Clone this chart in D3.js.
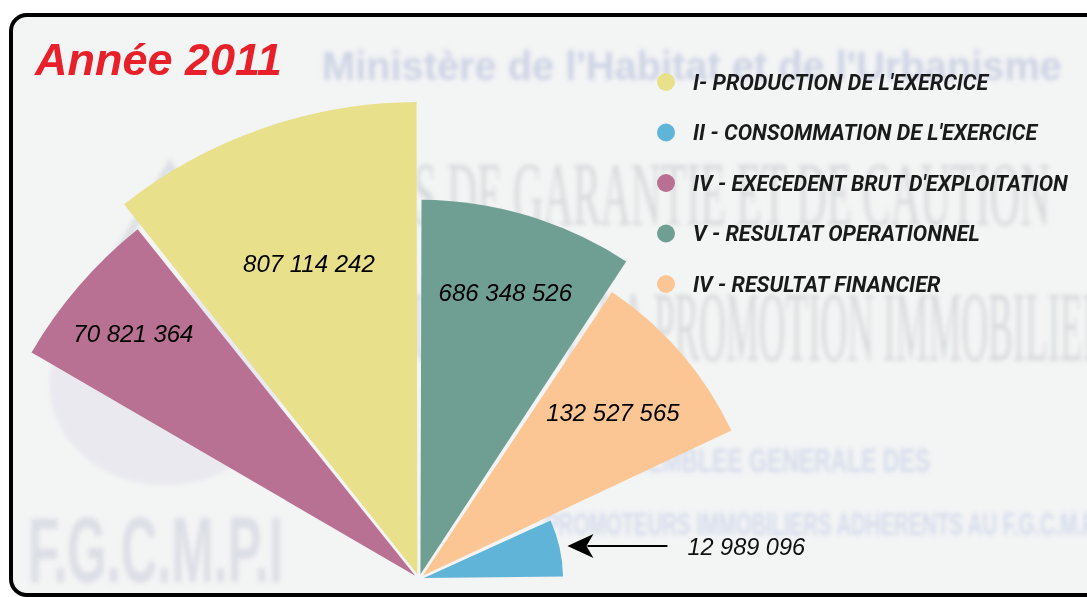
<!DOCTYPE html>
<html>
<head>
<meta charset="utf-8">
<script src="https://cdn.jsdelivr.net/npm/d3@7"></script>
<style>
  body { margin: 0; background: #fff; }
  svg { display: block; }
</style>
</head>
<body>
<div id="viz"></div>
<script>
var categories = ["I- PRODUCTION DE L'EXERCICE", "II - CONSOMMATION DE L'EXERCICE",
                  "IV - EXECEDENT BRUT D'EXPLOITATION", "V - RESULTAT OPERATIONNEL",
                  "IV - RESULTAT FINANCIER"];
var values = [807114242, 12989096, 70821364, 686348526, 132527565];
var colors = ["#e8e08a", "#5fb4d8", "#b87192", "#6f9f93", "#fcc694"];

// the wedges are not proportional to the values: angle share (deg) and
// reach (% of the longest wedge)
var sweeps = [38.5, 25, 21.5, 33.5, 31.5];
var reach = [100, 30.2, 94.1, 79.5, 72.5];
// left to right order of the wedges
var wedgeOrder = [2, 0, 3, 4, 1];

var width = 1087,
    height = 597;

var svg = d3.select("#viz").append("svg")
    .attr("width", width)
    .attr("height", height);

var defs = svg.append("defs");
defs.append("filter").attr("id", "blur")
    .attr("x", "-5%").attr("y", "-20%").attr("width", "110%").attr("height", "140%")
  .append("feGaussianBlur").attr("stdDeviation", 2.2);

// frame
svg.append("rect")
    .attr("x", 11).attr("y", 15)
    .attr("width", 1110).attr("height", 580)
    .attr("rx", 16)
    .style("fill", "#f3f4f4")
    .style("stroke", "#000")
    .style("stroke-width", 4);

// faded background poster
var bg = svg.append("g").attr("filter", "url(#blur)");

function ghost(x, y, len, size, family, weight, color, op, txt) {
  bg.append("text")
      .attr("x", x).attr("y", y)
      .attr("textLength", len)
      .attr("lengthAdjust", "spacingAndGlyphs")
      .style("font-family", family)
      .style("font-weight", weight)
      .style("font-size", size + "px")
      .style("fill", color)
      .style("opacity", op)
      .text(txt);
}

// logo ghost
bg.append("ellipse")
    .attr("cx", 165).attr("cy", 385).attr("rx", 115).attr("ry", 100)
    .style("fill", "#dedbe8").style("opacity", 0.45);
bg.append("path")
    .attr("d", "M90,300 L170,165 L250,300")
    .style("fill", "none").style("stroke", "#c4ccd6")
    .style("stroke-width", 7).style("opacity", 0.5);

ghost(322, 80, 740, 40, "Liberation Sans, Arial, sans-serif", "bold", "#aab4d8", 0.5,
      "Ministère de l'Habitat et de l'Urbanisme");
ghost(300, 225, 750, 92, "Liberation Serif, serif", "normal", "#9aa0a6", 0.3,
      "FONDS DE GARANTIE ET DE CAUTION");
ghost(330, 360, 800, 100, "Liberation Serif, serif", "normal", "#9aa0a6", 0.3,
      "MUTUELLE DE LA PROMOTION IMMOBILIERE");
ghost(600, 472, 330, 34, "Liberation Sans, Arial, sans-serif", "bold", "#aab8e0", 0.4,
      "ASSEMBLEE GENERALE DES");
ghost(545, 535, 560, 32, "Liberation Sans, Arial, sans-serif", "bold", "#aab8e0", 0.4,
      "PROMOTEURS IMMOBILIERS ADHERENTS AU F.G.C.M.P.I");
ghost(28, 582, 255, 92, "Liberation Sans, Arial, sans-serif", "bold", "#a8aec8", 0.3,
      "F.G.C.M.P.I");

// title
svg.append("text")
    .attr("x", 35).attr("y", 75)
    .style("font-family", "Liberation Sans, Arial, sans-serif")
    .style("font-weight", "bold")
    .style("font-style", "italic")
    .style("font-size", "45px")
    .style("fill", "#e8202a")
    .text("Année 2011");

// polar wedges
var cx = 419, cy = 579;
var deg = Math.PI / 180;

var r = d3.scaleLinear().domain([0, 100]).range([0, 477]);

var pie = d3.pie()
    .sort(null)
    .value(function(i) { return sweeps[i]; })
    .startAngle(-60 * deg)
    .endAngle(90 * deg);

var arc = d3.arc()
    .innerRadius(5)
    .outerRadius(function(d) { return r(reach[d.data]); })
    .padAngle(0.02)
    .padRadius(250);

var g = svg.append("g")
    .attr("transform", "translate(" + cx + "," + cy + ")");

var slices = pie(wedgeOrder);

g.selectAll("path.wedge")
    .data(slices)
  .enter().append("path")
    .attr("class", "wedge")
    .attr("d", arc)
    .style("fill", function(d) { return colors[d.data]; });

var fmt = function(v) { return d3.format(",")(v).replace(/,/g, " "); };

// label depth along each wedge (fraction of its reach)
var labelAt = [0.70, null, 0.84, 0.79, 0.74];

g.selectAll("text.val")
    .data(slices.filter(function(d) { return labelAt[d.data] != null; }))
  .enter().append("text")
    .attr("class", "val")
    .attr("transform", function(d) {
      var a = (d.startAngle + d.endAngle) / 2,
          rr = r(reach[d.data]) * labelAt[d.data];
      return "translate(" + (Math.sin(a) * rr) + "," + (-Math.cos(a) * rr) + ")";
    })
    .attr("dy", "0.36em")
    .attr("text-anchor", "middle")
    .style("font-family", "Liberation Sans, Arial, sans-serif")
    .style("font-style", "italic")
    .style("font-size", "24px")
    .style("fill", "#000")
    .text(function(d) { return fmt(values[d.data]); });

// arrow for the small wedge
var small = slices.filter(function(d) { return labelAt[d.data] == null; })[0];
var am = (small.startAngle + small.endAngle) / 2,
    tipX = Math.sin(am) * (r(reach[small.data]) + 8),
    tipY = -Math.cos(am) * (r(reach[small.data]) + 8);

g.append("line")
    .attr("x1", tipX + 20).attr("y1", tipY)
    .attr("x2", tipX + 100).attr("y2", tipY)
    .style("stroke", "#000")
    .style("stroke-width", 2);

g.append("path")
    .attr("d", "M" + tipX + "," + tipY +
               " L" + (tipX + 26) + "," + (tipY - 12) +
               " L" + (tipX + 19) + "," + tipY +
               " L" + (tipX + 26) + "," + (tipY + 12) + " Z")
    .style("fill", "#000");

g.append("text")
    .attr("x", tipX + 120).attr("y", tipY)
    .attr("dy", "0.36em")
    .style("font-family", "Liberation Sans, Arial, sans-serif")
    .style("font-style", "italic")
    .style("font-size", "23.5px")
    .style("fill", "#111")
    .text(fmt(values[small.data]));

// legend
var legend = svg.append("g")
    .attr("transform", "translate(666,82)");

var item = legend.selectAll("g")
    .data(categories)
  .enter().append("g")
    .attr("transform", function(d, i) { return "translate(0," + (i * 50.5) + ")"; });

item.append("circle")
    .attr("r", 9)
    .style("fill", function(d, i) { return colors[i]; });

item.append("text")
    .attr("x", 27)
    .attr("dy", "0.36em")
    .style("font-family", "Roboto, sans-serif")
    .style("font-weight", "bold")
    .style("font-style", "italic")
    .style("font-size", "21.5px")
    .style("fill", "#1a1a1a")
    .text(function(d) { return d; });
</script>
</body>
</html>
